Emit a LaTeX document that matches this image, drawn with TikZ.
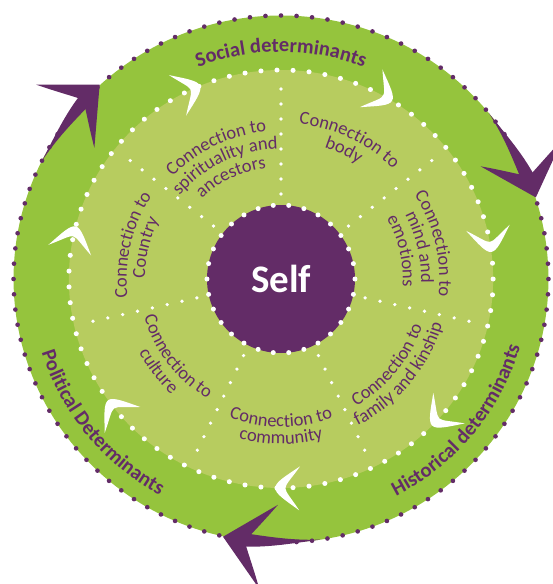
\documentclass[tikz,border=0pt]{standalone}
\usepackage{fontspec}
\setmainfont{Carlito}
\usetikzlibrary{decorations.text}

\definecolor{leaf}{HTML}{95C43D}
\definecolor{moss}{HTML}{B7CC5F}
\definecolor{vine}{HTML}{632C67}

\newcommand\sectorfont{\fontsize{18.5}{18.5}\selectfont}
\newcommand\bandfont{\fontsize{20.5}{20.5}\selectfont\bfseries}

% one line of a sector label, bent round the centre
% #1 angle, #2 baseline radius, #3 text
\newcommand\cwtext[3]{%
  \path[curved={\sectorfont}{#3}] (#1+60:#2) arc[start angle=#1+60, end angle=#1-60, radius=#2];}
\newcommand\ccwtext[3]{%
  \path[curved={\sectorfont}{#3}] (#1-60:#2) arc[start angle=#1-60, end angle=#1+60, radius=#2];}

% white boomerang sitting on the inner ring
\newcommand\boomerang[1]{%
  \begin{scope}[shift={(#1:209)}, rotate=#1-90]
    \fill[white] (-22,22) .. controls (-8,12) and (2,6) .. (2,0)
      .. controls (2,-6) and (-8,-12) .. (-22,-22)
      .. controls (-14,-10) and (-8,-4) .. (-8,0)
      .. controls (-8,4) and (-14,10) .. (-22,22) -- cycle;
  \end{scope}}

% purple arrow running clockwise round the rim, #1 = angle of the tip
\newcommand\rimarrow[1]{%
  \fill[vine] (#1+21:263.5) .. controls (#1+14:265) and (#1+8:271) .. (#1+2:271)
    -- (#1+2:257) .. controls (#1+8:257) and (#1+14:262) .. (#1+21:263.5) -- cycle;
  \begin{scope}[shift={(#1:264)}, rotate=#1-90]
    \fill[vine] (0,0) -- (-46,43) .. controls (-36,24) and (-26,8) .. (-22,0)
      .. controls (-26,-8) and (-36,-24) .. (-46,-43) -- cycle;
  \end{scope}}

\tikzset{
  curved/.style 2 args={decorate, decoration={text along path, text align=center,
      text color=vine, text={|#1|#2}}},
  selfdisc/.style={circle, fill=vine, text=white, minimum size=148pt, inner sep=0pt,
      font=\fontsize{39}{39}\selectfont\bfseries},
}

\begin{document}
\begin{tikzpicture}[x=1.015pt, y=1pt]
\useasboundingbox (-281pt,-305pt) rectangle (271pt,279pt);

% outer band with its purple dots
\fill[leaf] (0,0) circle[radius=263.5];
\foreach \a in {0,...,107}
  \fill[vine] (\a/108*360:263.5) circle[radius=2.3];

% inner ring
\fill[moss] (0,0) circle[radius=209];
\foreach \a in {0,...,82}
  \fill[white] (\a/83*360:209) circle[radius=2.5];

% seven dotted spokes
\foreach \k in {0,...,6}
  \foreach \r in {85,100,...,190}
    \fill[white] (90-\k*360/7:\r) circle[radius=1.8];

% centre
\node[selfdisc] (self) at (0,0) {Self};
\foreach \a in {0,...,29}
  \fill[white] (\a*12:74pt) circle[radius=2.5pt];

% sector labels
\cwtext{116}{148}{Connection to}
\cwtext{116}{130}{spirituality and}
\cwtext{116}{112}{ancestors}

\cwtext{64}{156}{Connection to}
\cwtext{64}{138}{body}

\cwtext{13}{156}{Connection to}
\cwtext{13}{138}{mind and}
\cwtext{13}{120}{emotions}

\ccwtext{-39}{147}{Connection to}
\ccwtext{-39}{165}{family and kinship}

\ccwtext{-90}{148}{Connection to}
\ccwtext{-90}{165}{community}

\ccwtext{-143}{140}{Connection to}
\ccwtext{-143}{158}{culture}

\cwtext{167}{152}{Connection to}
\cwtext{167}{134}{Country}

% boomerangs on the inner ring
\foreach \a in {113,59,8,-44,-91,-144,166}
  {\boomerang{\a}}

% arrows on the rim
\rimarrow{132.6}
\rimarrow{18}
\rimarrow{-102.5}

% determinants round the band
\path[curved={\bandfont}{Social determinants}] (150:227) arc[start angle=150, end angle=30, radius=227];
\path[curved={\bandfont}{Historical determinants}] (-89:245) arc[start angle=-89, end angle=11, radius=245];
\path[curved={\bandfont}{Political Determinants}] (169:247) arc[start angle=169, end angle=269, radius=247];
\end{tikzpicture}
\end{document}
